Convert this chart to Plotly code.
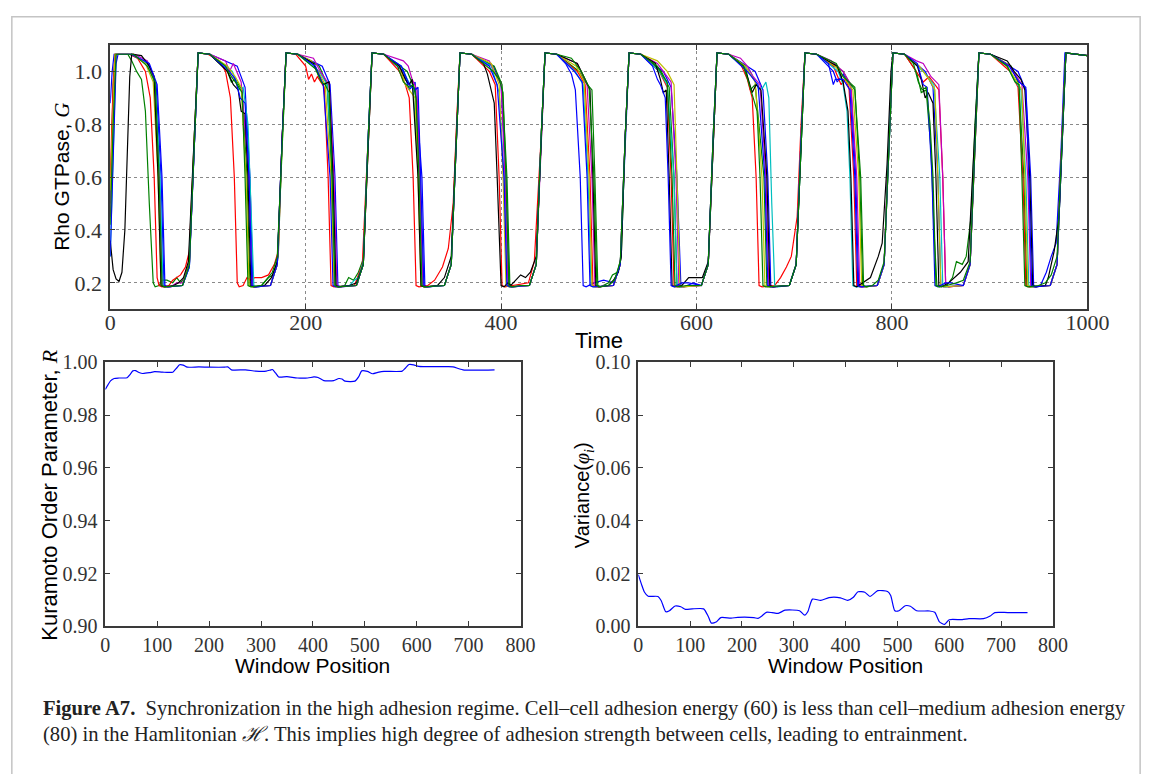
import plotly.graph_objects as go

W, H = 1168, 774

# ---------------- data: Rho GTPase traces (time, G) ----------------
blue_1 = [(0,0.88),(2,1.0),(4,1.065),(20,1.065),(39,1.03),(47,0.95),(52,0.6),(55,0.19),(58,0.185),
    (74,0.19),(81,0.26),(86,0.75),(90,1.07),(102,1.065),(130,1.02),(138,0.94),(143,0.6),(146,0.19),(149,0.185),
    (164,0.19),(171,0.27),(176,0.75),(180,1.07),(192,1.065),(217,1.02),(225,0.95),(230,0.6),(233,0.19),(236,0.185),
    (252,0.19),(259,0.27),(264,0.75),(268,1.07),(280,1.065),(300,1.0),(306,0.93),(312,0.96),(319,0.6),(322,0.19),(325,0.185),
    (342,0.19),(349,0.27),(354,0.75),(358,1.07),(370,1.065),(392,1.02),(400,0.95),(405,0.6),(408,0.19),(411,0.185),
    (429,0.19),(436,0.27),(441,0.75),(445,1.07),(457,1.065),(466,1.03),(472,0.99),(476,0.93),(481,0.6),(484,0.19),(487,0.185),(495,0.2),(505,0.21),
    (515,0.2),(522,0.27),(527,0.75),(531,1.07),(543,1.065),(566,1.0),(574,0.94),(580,0.6),(584,0.19),(587,0.185),(597,0.2),
    (605,0.19),(612,0.27),(617,0.75),(621,1.07),(633,1.065),(660,1.0),(668,0.93),(673,0.6),(676,0.19),(679,0.185),
    (695,0.19),(702,0.27),(707,0.75),(711,1.07),(723,1.065),(740,1.0),(744,0.96),(750,0.99),(758,0.94),(763,0.6),(766,0.19),(769,0.185),
    (785,0.19),(792,0.27),(797,0.75),(801,1.07),(813,1.065),(834,1.0),(842,0.94),(847,0.6),(850,0.19),(853,0.185),
    (873,0.19),(880,0.27),(885,0.75),(889,1.07),(901,1.065),(929,1.0),(937,0.93),(942,0.6),(945,0.19),(948,0.185),
    (952,0.19),(958,0.24),(963,0.3),(968,0.35),(973,0.7),(977,1.07),(1000,1.06)]

green_1 = [(0,0.5),(3,0.95),(5,1.065),(18,1.065),(22,1.04),(27,1.0),(32,0.97),(36,0.85),(40,0.5),(44,0.2),(46,0.185),
    (50,0.19),(53,0.21),(58,0.21),(64,0.2),(68,0.22),(72,0.2),
    (76,0.22),(81,0.28),(86,0.75),(90,1.07),(102,1.065),(120,1.0),(124,0.96),(128,0.97),(135,0.93),(140,0.6),(143,0.19),(146,0.185),(155,0.19),(162,0.22),
    (167,0.23),(172,0.3),(176,0.75),(180,1.07),(192,1.065),(214,1.02),(222,0.95),(227,0.6),(230,0.19),(233,0.185),(240,0.19),(244,0.22),(249,0.21),(254,0.24),
    (259,0.29),(264,0.75),(268,1.07),(280,1.065),(304,1.0),(312,0.93),(317,0.6),(320,0.19),(323,0.185),
    (342,0.19),(349,0.27),(354,0.75),(358,1.07),(370,1.065),(393,1.02),(401,0.95),(406,0.6),(409,0.19),(412,0.185),
    (429,0.19),(436,0.27),(441,0.75),(445,1.07),(457,1.065),(480,1.0),(486,0.96),(493,0.93),(496,0.6),(499,0.19),(502,0.185),(510,0.2),(514,0.23),
    (519,0.24),(523,0.3),(527,0.75),(531,1.07),(543,1.065),(564,1.0),(572,0.94),(577,0.6),(580,0.19),(583,0.185),
    (605,0.19),(612,0.27),(617,0.75),(621,1.07),(633,1.065),(650,1.02),(655,0.93),(660,0.95),(669,0.6),(672,0.19),(675,0.185),
    (695,0.19),(702,0.27),(707,0.75),(711,1.07),(723,1.065),(750,1.0),(756,0.96),(762,0.94),(767,0.6),(770,0.19),(773,0.185),
    (785,0.19),(792,0.27),(797,0.75),(801,1.07),(813,1.065),(825,1.0),(830,0.92),(835,0.93),(840,0.7),(843,0.4),(846,0.19),(849,0.185),
    (856,0.19),(862,0.22),(866,0.28),(872,0.27),(876,0.3),(881,0.45),(885,0.8),(889,1.07),(901,1.065),(922,1.02),(930,0.95),(935,0.6),(938,0.19),(941,0.185),
    (962,0.19),(969,0.27),(974,0.75),(978,1.07),(1000,1.06)]

red_1 = [(0,0.6),(3,0.95),(5,1.065),(20,1.065),(28,1.05),(36,1.0),(41,0.9),(45,0.6),(48,0.22),(50,0.19),(53,0.185),(60,0.19),(64,0.21),(68,0.22),(72,0.23),
    (77,0.26),(81,0.32),(86,0.75),(90,1.07),(100,1.065),(112,1.04),(118,1.0),(123,0.9),(127,0.6),(130,0.2),(132,0.185),(136,0.19),(140,0.22),(144,0.21),(148,0.22),(155,0.22),(162,0.23),
    (168,0.27),(172,0.32),(176,0.75),(180,1.07),(190,1.065),(200,1.02),(203,0.97),(206,0.99),(209,0.96),(212,0.98),(219,0.94),(223,0.6),(226,0.19),(229,0.185),
    (250,0.19),(258,0.27),(264,0.75),(268,1.07),(280,1.065),(296,1.0),(302,0.95),(306,0.9),(310,0.6),(313,0.19),(316,0.185),(325,0.19),(332,0.21),(340,0.26),(346,0.33),
    (351,0.5),(355,0.85),(358,1.07),(370,1.065),(388,1.0),(394,0.95),(398,0.6),(401,0.19),(404,0.185),
    (428,0.2),(434,0.28),(441,0.75),(445,1.07),(457,1.065),(478,1.0),(486,0.95),(491,0.6),(494,0.19),(497,0.185),
    (515,0.19),(522,0.27),(527,0.75),(531,1.07),(543,1.065),(562,1.0),(570,0.94),(574,0.6),(577,0.19),(580,0.185),
    (605,0.19),(612,0.27),(617,0.75),(621,1.07),(633,1.065),(645,1.03),(652,0.97),(657,0.9),(661,0.6),(664,0.19),(667,0.185),(680,0.19),(686,0.22),(692,0.26),(697,0.3),
    (703,0.45),(707,0.8),(711,1.07),(723,1.065),(740,1.02),(748,0.95),(752,0.97),(756,0.94),(761,0.6),(764,0.19),(767,0.185),
    (785,0.19),(792,0.27),(797,0.75),(801,1.07),(813,1.065),(825,1.0),(832,0.96),(838,0.98),(848,0.93),(852,0.6),(855,0.19),(858,0.185),
    (873,0.19),(880,0.27),(885,0.75),(889,1.07),(901,1.065),(921,1.0),(929,0.94),(934,0.6),(937,0.19),(940,0.185),
    (962,0.19),(969,0.27),(974,0.75),(978,1.07),(1000,1.06)]

cyan_1 = [(0,0.3),(3,0.7),(6,1.065),(22,1.065),(38,1.03),(46,0.95),(51,0.6),(54,0.19),(57,0.185),
    (74,0.19),(81,0.26),(86,0.75),(90,1.07),(102,1.065),(125,1.0),(132,0.93),(136,0.94),(141,0.8),(144,0.5),(147,0.19),(150,0.185),
    (164,0.19),(171,0.27),(176,0.75),(180,1.07),(192,1.065),(214,1.0),(222,0.95),(228,0.6),(231,0.19),(234,0.185),(245,0.19),(250,0.21),
    (254,0.22),(259,0.28),(264,0.75),(268,1.07),(280,1.065),(298,1.02),(304,0.97),(310,0.93),(316,0.6),(319,0.19),(322,0.185),
    (342,0.19),(349,0.27),(354,0.75),(358,1.07),(370,1.065),(390,1.02),(398,0.92),(403,0.6),(406,0.19),(409,0.185),
    (429,0.19),(436,0.27),(441,0.75),(445,1.07),(457,1.065),(476,1.0),(484,0.95),(489,0.6),(492,0.19),(495,0.185),
    (515,0.19),(522,0.27),(527,0.75),(531,1.07),(543,1.065),(562,1.0),(570,0.95),(577,0.6),(580,0.19),(583,0.185),
    (605,0.19),(612,0.27),(617,0.75),(621,1.07),(633,1.065),(655,1.0),(664,0.93),(668,0.94),(671,0.96),(674,0.9),(677,0.5),(680,0.19),(683,0.185),
    (695,0.19),(702,0.27),(707,0.75),(711,1.07),(723,1.065),(745,1.0),(750,0.95),(754,0.85),(757,0.6),(760,0.19),(763,0.185),
    (785,0.19),(792,0.27),(797,0.75),(801,1.07),(813,1.065),(832,1.0),(843,0.95),(849,0.6),(852,0.19),(855,0.185),
    (873,0.19),(880,0.27),(885,0.75),(889,1.07),(901,1.065),(918,1.02),(925,0.97),(932,0.93),(937,0.6),(940,0.19),(943,0.185),
    (962,0.19),(969,0.27),(974,0.75),(978,1.07),(1000,1.06)]

magenta_1 = [(0,0.45),(3,0.85),(6,1.065),(25,1.065),(38,1.04),(45,0.97),(50,0.6),(53,0.19),(56,0.185),(62,0.185),(68,0.2),
    (74,0.2),(81,0.27),(86,0.75),(90,1.07),(102,1.065),(118,1.04),(122,1.0),(126,1.03),(134,0.96),(142,0.6),(145,0.19),(148,0.185),
    (164,0.19),(171,0.27),(176,0.75),(180,1.07),(192,1.065),(208,1.05),(215,1.0),(224,0.95),(229,0.6),(232,0.19),(235,0.185),
    (252,0.19),(259,0.27),(264,0.75),(268,1.07),(280,1.065),(300,1.04),(305,1.02),(309,0.97),(314,0.93),(317,0.6),(320,0.19),(323,0.185),
    (342,0.19),(349,0.27),(354,0.75),(358,1.07),(370,1.065),(388,1.04),(393,1.0),(400,0.95),(404,0.6),(407,0.19),(410,0.185),
    (429,0.19),(436,0.27),(441,0.75),(445,1.07),(457,1.065),(478,1.03),(488,0.95),(493,0.6),(496,0.19),(499,0.185),
    (515,0.19),(522,0.27),(527,0.75),(531,1.07),(543,1.065),(560,1.03),(566,1.0),(574,0.96),(579,0.6),(582,0.19),(585,0.185),
    (605,0.19),(612,0.27),(617,0.75),(621,1.07),(633,1.065),(645,1.05),(652,1.02),(658,0.98),(665,0.95),(671,0.6),(674,0.19),(677,0.185),
    (695,0.19),(702,0.27),(707,0.75),(711,1.07),(723,1.065),(738,1.04),(744,1.02),(750,1.0),(758,0.95),(764,0.6),(767,0.19),(770,0.185),
    (785,0.19),(792,0.27),(797,0.75),(801,1.07),(813,1.065),(825,1.04),(832,1.03),(840,0.98),(848,0.95),(852,0.6),(855,0.19),(858,0.185),
    (873,0.19),(880,0.27),(885,0.75),(889,1.07),(901,1.065),(921,1.02),(933,0.95),(939,0.6),(942,0.19),(945,0.185),
    (962,0.19),(969,0.27),(974,0.75),(978,1.07),(1000,1.06)]

yellow_1 = [(0,0.55),(3,0.9),(5,1.065),(24,1.065),(36,1.03),(44,0.96),(49,0.6),(52,0.19),(55,0.185),
    (74,0.19),(81,0.27),(86,0.75),(90,1.07),(102,1.065),(120,1.02),(128,0.98),(134,0.94),(139,0.6),(142,0.19),(145,0.185),
    (164,0.19),(171,0.27),(176,0.75),(180,1.07),(192,1.065),(206,1.04),(213,1.0),(220,0.95),(226,0.6),(229,0.19),(232,0.185),
    (252,0.19),(259,0.27),(264,0.75),(268,1.07),(280,1.065),(296,1.02),(302,0.95),(306,0.93),(312,0.9),(315,0.6),(318,0.19),(321,0.185),
    (342,0.19),(349,0.27),(354,0.75),(358,1.07),(370,1.065),(390,1.03),(398,0.95),(402,0.6),(405,0.19),(408,0.185),
    (429,0.19),(436,0.27),(441,0.75),(445,1.07),(457,1.065),(477,1.02),(485,0.96),(490,0.6),(493,0.19),(496,0.185),
    (515,0.19),(522,0.27),(527,0.75),(531,1.07),(543,1.065),(560,1.04),(570,1.0),(577,0.95),(580,0.6),(583,0.19),(586,0.185),
    (605,0.19),(612,0.27),(617,0.75),(621,1.07),(633,1.065),(650,1.02),(660,0.96),(667,0.6),(670,0.19),(673,0.185),
    (695,0.19),(702,0.27),(707,0.75),(711,1.07),(723,1.065),(742,1.02),(752,0.97),(760,0.93),(766,0.6),(769,0.19),(772,0.185),
    (785,0.19),(792,0.27),(797,0.75),(801,1.07),(813,1.065),(828,1.02),(838,0.97),(844,0.93),(847,0.6),(850,0.19),(853,0.185),
    (873,0.19),(880,0.27),(885,0.75),(889,1.07),(901,1.065),(918,1.02),(928,0.96),(933,0.93),(936,0.6),(939,0.19),(942,0.185),
    (962,0.19),(969,0.27),(974,0.75),(978,1.07),(1000,1.06)]

black_1 = [(0,0.36),(3,0.25),(6,0.215),(9,0.205),(12,0.24),(15,0.4),(18,0.75),(20,0.98),(22,1.065),(32,1.06),(40,1.02),(45,0.98),(49,0.6),(52,0.19),(55,0.185),(65,0.19),(70,0.2),
    (75,0.22),(80,0.28),(86,0.75),(90,1.07),(102,1.065),(120,1.0),(126,0.95),(131,0.93),(134,0.85),(138,0.84),(141,0.6),(144,0.19),(147,0.185),(158,0.19),(165,0.22),
    (171,0.28),(176,0.75),(180,1.07),(192,1.065),(208,1.03),(214,0.98),(218,0.95),(224,0.96),(228,0.6),(231,0.19),(234,0.185),(245,0.19),
    (252,0.2),(259,0.27),(264,0.75),(268,1.07),(280,1.065),(296,1.02),(302,0.97),(306,0.95),(309,0.97),(315,0.6),(318,0.19),(321,0.185),(335,0.19),(342,0.22),
    (349,0.3),(354,0.75),(358,1.07),(370,1.065),(382,1.03),(386,0.99),(390,0.92),(393,0.88),(396,0.6),(400,0.19),(403,0.185),(407,0.2),(410,0.19),(415,0.21),(420,0.23),(425,0.22),
    (430,0.24),(436,0.3),(441,0.75),(445,1.07),(457,1.065),(478,1.03),(486,0.97),(491,0.93),(494,0.6),(497,0.19),(500,0.185),(510,0.19),(515,0.21),
    (520,0.24),(523,0.3),(527,0.75),(531,1.07),(543,1.065),(558,1.03),(563,0.97),(566,0.92),(569,0.93),(572,0.6),(575,0.19),(578,0.185),(585,0.19),(592,0.22),
    (606,0.22),(612,0.28),(617,0.75),(621,1.07),(633,1.065),(648,1.02),(653,0.97),(657,0.92),(661,0.95),(666,0.93),(672,0.6),(675,0.19),(678,0.185),
    (695,0.19),(702,0.27),(707,0.75),(711,1.07),(723,1.065),(744,1.02),(750,0.96),(755,0.85),(758,0.6),(761,0.19),(764,0.185),(770,0.2),(778,0.22),(786,0.3),
    (790,0.35),(795,0.65),(799,1.0),(801,1.07),(813,1.065),(826,1.02),(830,0.97),(834,0.9),(837,0.92),(842,0.88),(845,0.6),(848,0.19),(851,0.185),(858,0.2),(864,0.22),(870,0.24),
    (878,0.28),(885,0.75),(889,1.07),(901,1.065),(918,1.04),(925,1.0),(932,0.97),(936,0.93),(941,0.6),(944,0.19),(947,0.185),(957,0.19),
    (960,0.22),(966,0.32),(971,0.45),(975,0.8),(978,1.07),(1000,1.06)]

blue_2 = [(0,0.3),(3,0.65),(6,1.03),(8,1.065),(22,1.065),(40,1.03),(48,0.95),(53,0.6),(56,0.19),(59,0.185),
    (74,0.19),(81,0.26),(86,0.75),(90,1.07),(102,1.065),(122,1.0),(128,0.97),(133,0.9),(138,0.88),(142,0.6),(145,0.19),(148,0.185),
    (164,0.19),(171,0.27),(176,0.75),(180,1.07),(192,1.065),(210,1.02),(218,0.95),(225,0.6),(228,0.19),(231,0.185),
    (252,0.19),(259,0.27),(264,0.75),(268,1.07),(280,1.065),(298,1.02),(306,0.95),(312,0.93),(315,0.94),(318,0.6),(321,0.19),(324,0.185),
    (342,0.19),(349,0.27),(354,0.75),(358,1.07),(370,1.065),(388,1.02),(396,0.95),(403,0.6),(406,0.19),(409,0.185),
    (429,0.19),(436,0.27),(441,0.75),(445,1.07),(457,1.065),(475,1.0),(483,0.96),(488,0.6),(491,0.19),(494,0.185),
    (515,0.19),(522,0.27),(527,0.75),(531,1.07),(543,1.065),(555,1.02),(560,0.97),(563,0.95),(568,0.9),(571,0.6),(574,0.19),(577,0.185),(585,0.2),(592,0.2),
    (605,0.19),(612,0.27),(617,0.75),(621,1.07),(633,1.065),(652,1.0),(663,0.95),(670,0.6),(673,0.19),(676,0.185),
    (695,0.19),(702,0.27),(707,0.75),(711,1.07),(723,1.065),(735,1.03),(740,0.95),(742,0.97),(750,0.97),(757,0.93),(762,0.6),(765,0.19),(768,0.185),
    (785,0.19),(792,0.27),(797,0.75),(801,1.07),(813,1.065),(826,1.03),(832,0.95),(836,0.94),(841,0.6),(844,0.19),(847,0.185),(855,0.2),(860,0.2),
    (873,0.19),(880,0.27),(885,0.75),(889,1.07),(901,1.065),(920,1.02),(930,0.96),(937,0.94),(940,0.6),(943,0.19),(946,0.185),
    (962,0.19),(969,0.27),(974,0.75),(978,1.07),(1000,1.06)]

green_2 = [(0,0.42),(3,0.8),(6,1.065),(24,1.065),(38,1.02),(46,0.96),(50,0.6),(53,0.19),(56,0.185),
    (74,0.19),(81,0.27),(86,0.75),(90,1.07),(102,1.065),(118,1.02),(124,0.98),(130,0.95),(135,0.92),(138,0.6),(141,0.19),(144,0.185),(155,0.19),(162,0.22),(166,0.24),
    (171,0.3),(176,0.75),(180,1.07),(192,1.065),(210,1.01),(216,0.96),(220,0.95),(224,0.92),(227,0.6),(230,0.19),(233,0.185),
    (252,0.19),(259,0.27),(264,0.75),(268,1.07),(280,1.065),(294,1.02),(300,0.96),(306,0.94),(310,0.95),(313,0.9),(316,0.6),(319,0.19),(322,0.185),
    (342,0.19),(349,0.27),(354,0.75),(358,1.07),(370,1.065),(392,1.0),(398,0.97),(402,0.92),(405,0.6),(408,0.19),(411,0.185),(420,0.19),
    (429,0.19),(436,0.27),(441,0.75),(445,1.07),(457,1.065),(472,1.05),(482,1.0),(490,0.94),(495,0.6),(498,0.19),(501,0.185),(510,0.19),(516,0.21),
    (522,0.28),(527,0.75),(531,1.07),(543,1.065),(560,1.02),(566,0.98),(570,0.96),(575,0.6),(578,0.19),(581,0.185),(590,0.19),
    (605,0.19),(612,0.27),(617,0.75),(621,1.07),(633,1.065),(648,1.02),(654,0.95),(658,0.9),(662,0.85),(665,0.6),(668,0.19),(671,0.185),
    (695,0.19),(702,0.27),(707,0.75),(711,1.07),(723,1.065),(743,1.03),(750,0.98),(756,0.96),(762,0.93),(768,0.6),(771,0.19),(774,0.185),(780,0.19),(786,0.21),
    (792,0.28),(797,0.75),(801,1.07),(813,1.065),(822,1.03),(827,0.96),(831,0.93),(835,0.94),(839,0.8),(842,0.6),(845,0.19),(848,0.185),(856,0.19),(866,0.2),(873,0.21),
    (880,0.28),(885,0.75),(889,1.07),(901,1.065),(918,1.02),(926,0.96),(930,0.95),(933,0.6),(936,0.19),(939,0.185),(950,0.19),(957,0.2),(963,0.23),
    (969,0.3),(974,0.75),(978,1.07),(1000,1.06)]

trace_colors = ["#0000ff", "#008000", "#ff0000", "#00bfbf", "#bf00bf", "#bfbf00", "#000000", "#0000ff", "#008000"]
traces_top = [blue_1, green_1, red_1, cyan_1, magenta_1, yellow_1, black_1, blue_2, green_2]

# ---------------- data: Kuramoto order parameter R vs window position ----------------
kuramoto_R = [(0,0.9898),(5,0.9915),(10,0.9930),(17,0.9939),(26,0.9941),(42,0.9942),(48,0.9955),(53,0.9968),(58,0.9969),
    (65,0.9962),(72,0.9958),(85,0.9961),(95,0.9965),(110,0.9963),(130,0.9963),(137,0.9978),(143,0.9991),(150,0.9990),
    (158,0.9982),(180,0.9983),(200,0.9982),(230,0.9982),(236,0.9983),(243,0.9972),(270,0.9972),(290,0.9967),(310,0.9967),
    (318,0.9971),(322,0.9973),(328,0.9960),(334,0.9945),(350,0.9946),(370,0.9941),(390,0.9941),(402,0.9945),(410,0.9943),
    (421,0.9931),(440,0.9931),(450,0.9939),(456,0.9937),(462,0.9929),(481,0.9929),(488,0.9945),(494,0.9968),(505,0.9966),
    (515,0.9957),(525,0.9962),(537,0.9966),(572,0.9967),(578,0.9978),(585,0.9992),(594,0.9991),(604,0.9985),(660,0.9984),
    (670,0.9983),(689,0.9972),(750,0.9972)]

# ---------------- data: phase variance vs window position ----------------
phase_var = [(0,0.0196),(6,0.0160),(12,0.0129),(19,0.0114),(38,0.0113),(44,0.0098),(53,0.0055),(60,0.0059),(71,0.0077),
    (82,0.0074),(91,0.0064),(104,0.0066),(126,0.0066),(135,0.0037),(141,0.0012),(151,0.0017),(159,0.0033),(179,0.0031),
    (192,0.0034),(223,0.0033),(231,0.0030),(239,0.0040),(247,0.0053),(258,0.0052),(270,0.0049),(283,0.0061),(311,0.0059),
    (321,0.0042),(327,0.0055),(336,0.0103),(352,0.0098),(368,0.0109),(390,0.0108),(404,0.0098),(415,0.0110),(424,0.0131),
    (437,0.0129),(447,0.0113),(462,0.0135),(481,0.0132),(487,0.0117),(495,0.0059),(503,0.0059),(515,0.0078),(525,0.0076),
    (537,0.0059),(562,0.0058),(572,0.0053),(581,0.0017),(591,0.0007),(600,0.0025),(625,0.0025),(638,0.0029),(666,0.0029),
    (679,0.0039),(688,0.0052),(713,0.0052),(751,0.0052)]

top_xticks = [0, 200, 400, 600, 800, 1000]
top_yticks = [0.2, 0.4, 0.6, 0.8, 1.0]
bot_xticks = [0, 100, 200, 300, 400, 500, 600, 700, 800]
r_yticks = [0.90, 0.92, 0.94, 0.96, 0.98, 1.00]
v_yticks = [0.00, 0.02, 0.04, 0.06, 0.08, 0.10]

caption_1 = "<b>Figure A7.</b>  Synchronization in the high adhesion regime. Cell–cell adhesion energy (60) is less than cell–medium adhesion energy"
caption_2 = "(80) in the Hamlitonian <i>ℋ</i>. This implies high degree of adhesion strength between cells, leading to entrainment."

# ---------------- figure ----------------
def px(x):
    return x / W

def py(y):
    return 1 - y / H

fig = go.Figure()
for pts, col in zip(traces_top, trace_colors):
    fig.add_trace(go.Scatter(x=[p[0] for p in pts], y=[p[1] for p in pts], mode="lines",
                             line=dict(color=col, width=1.2), xaxis="x", yaxis="y", showlegend=False))

fig.add_trace(go.Scatter(x=[p[0] for p in kuramoto_R], y=[p[1] for p in kuramoto_R], mode="lines",
                         line=dict(color="#0000ff", width=1.2, shape="spline", smoothing=0.6),
                         xaxis="x2", yaxis="y2", showlegend=False))
fig.add_trace(go.Scatter(x=[p[0] for p in phase_var], y=[p[1] for p in phase_var], mode="lines",
                         line=dict(color="#0000ff", width=1.2, shape="spline", smoothing=0.6),
                         xaxis="x3", yaxis="y3", showlegend=False))

FRAME = "#3a3a3a"
TICKFONT_TOP = dict(family="Liberation Serif", size=22, color="#333")
TICKFONT_BOT = dict(family="Liberation Serif", size=20, color="#333")
common = dict(showline=True, linecolor=FRAME, linewidth=1.6, mirror="allticks", ticks="inside",
              ticklen=5, tickcolor=FRAME, tickwidth=1, zeroline=False)
GRID = dict(showgrid=True, gridcolor="#8a8a8a", griddash="dot", gridwidth=1)

fig.update_layout(
    width=W, height=H, margin=dict(l=0, r=0, t=0, b=0),
    paper_bgcolor="white", plot_bgcolor="white", showlegend=False,
    xaxis=dict(domain=[px(107.7), px(1108)], range=[0, 1000], anchor="y",
               tickvals=top_xticks, ticktext=[str(v) for v in top_xticks], tickfont=TICKFONT_TOP,
               ticklabelstandoff=-7, **GRID, **common),
    yaxis=dict(domain=[py(307), py(35)], range=[0.1, 1.1], anchor="x",
               tickvals=top_yticks, ticktext=["%.1f" % v for v in top_yticks], tickfont=TICKFONT_TOP,
               ticklabelstandoff=2, **GRID, **common),
    xaxis2=dict(domain=[px(102.7), px(527.7)], range=[0, 800], anchor="y2",
                tickvals=bot_xticks, ticktext=[str(v) for v in bot_xticks], tickfont=TICKFONT_BOT,
                ticklabelstandoff=0, showgrid=False, **common),
    yaxis2=dict(domain=[py(633.3), py(361.7)], range=[0.90, 1.00], anchor="x2",
                tickvals=r_yticks, ticktext=["%.2f" % v for v in r_yticks], tickfont=TICKFONT_BOT,
                ticklabelstandoff=2, showgrid=False, **common),
    xaxis3=dict(domain=[px(648.3), px(1072.7)], range=[0, 800], anchor="y3",
                tickvals=bot_xticks, ticktext=[str(v) for v in bot_xticks], tickfont=TICKFONT_BOT,
                ticklabelstandoff=0, showgrid=False, **common),
    yaxis3=dict(domain=[py(633.3), py(361.7)], range=[0.0, 0.10], anchor="x3",
                tickvals=v_yticks, ticktext=["%.2f" % v for v in v_yticks], tickfont=TICKFONT_BOT,
                ticklabelstandoff=2, showgrid=False, **common),
)

SANS = "Liberation Sans"
ann = [
    dict(text="Rho GTPase, <span style='font-family:Liberation Serif'><i>G</i></span>", x=px(58), y=py(171),
         textangle=-90, font=dict(family=SANS, size=21, color="black")),
    dict(text="Time", x=px(608), y=py(339), font=dict(family=SANS, size=22, color="black")),
    dict(text="Kuramoto Order Parameter, <span style='font-family:Liberation Serif'><i>R</i></span>", x=px(46), y=py(498),
         textangle=-90, font=dict(family=SANS, size=22, color="black")),
    dict(text="Window Position", x=px(315), y=py(674), font=dict(family=SANS, size=21, color="black")),
    dict(text="Variance(<span style='font-family:Liberation Serif'><i>φ<sub>i</sub></i></span>)", x=px(593), y=py(498),
         textangle=-90, font=dict(family=SANS, size=20, color="black")),
    dict(text="Window Position", x=px(860), y=py(674), font=dict(family=SANS, size=21, color="black")),
]
for a in ann:
    fig.add_annotation(xref="paper", yref="paper", showarrow=False, xanchor="center", yanchor="middle", **a)

fig.add_annotation(xref="paper", yref="paper", showarrow=False, xanchor="left", yanchor="middle",
                   x=px(37), y=py(718), text=caption_1,
                   font=dict(family="Liberation Serif", size=20.6, color="#222"))
fig.add_annotation(xref="paper", yref="paper", showarrow=False, xanchor="left", yanchor="middle",
                   x=px(37), y=py(745), text=caption_2,
                   font=dict(family="Liberation Serif", size=20.6, color="#222"))

# page border
fig.add_shape(type="rect", xref="paper", yref="paper", x0=px(7), x1=px(1162), y0=py(790), y1=py(6),
              line=dict(color="#c4c4c4", width=1.5), fillcolor="rgba(0,0,0,0)", layer="below")

fig.write_html("out.html")
